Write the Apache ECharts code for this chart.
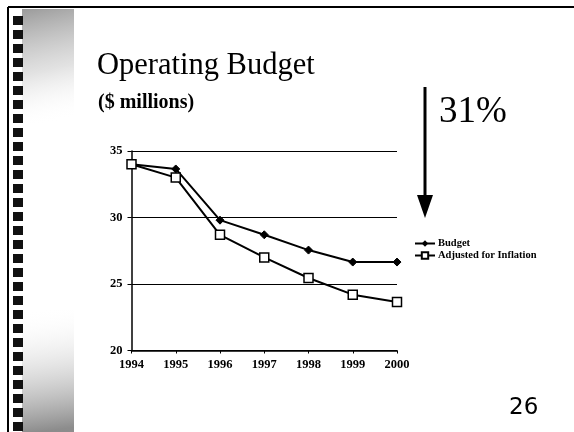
<!DOCTYPE html>
<html>
<head>
<meta charset="utf-8">
<script src="https://cdn.jsdelivr.net/npm/echarts@6/dist/echarts.min.js"></script>
<style>
html,body{margin:0;padding:0;background:#fff;}
#chart{width:574px;height:432px;}
</style>
</head>
<body>
<div id="chart"></div>
<script>
const years = ['1994','1995','1996','1997','1998','1999','2000'];
const budget = [34.0, 33.65, 29.8, 28.7, 27.55, 26.65, 26.65];
const adjusted = [34.0, 33.0, 28.7, 27.0, 25.45, 24.2, 23.65];
const seriesNames = ['Budget', 'Adjusted for Inflation'];
const yTicks = { min: 20, max: 35, interval: 5 };

const serif = '"Liberation Serif", "Times New Roman", serif';

// decorative left strip
const deco = [];
deco.push({type:'rect', shape:{x:22,y:9,width:52,height:115}, silent:true,
  style:{fill:new echarts.graphic.LinearGradient(0,0,0.5,1,[{offset:0,color:'rgba(130,130,130,0.8)'},{offset:0.55,color:'rgba(190,190,190,0.45)'},{offset:1,color:'rgba(255,255,255,0)'}])}});
deco.push({type:'rect', shape:{x:22,y:310,width:52,height:122}, silent:true,
  style:{fill:new echarts.graphic.LinearGradient(0,0,0.3,1,[{offset:0,color:'rgba(255,255,255,0)'},{offset:0.5,color:'rgba(190,190,190,0.45)'},{offset:1,color:'rgba(120,120,120,0.85)'}])}});
for (let y = 16; y < 432; y += 14) {
  deco.push({type:'rect', shape:{x:13,y:y,width:10,height:9}, silent:true, style:{fill:'#111'}});
}
deco.push({type:'line', shape:{x1:8,y1:7,x2:574,y2:7}, silent:true, style:{stroke:'#000',lineWidth:2}});
deco.push({type:'line', shape:{x1:8,y1:7,x2:8,y2:432}, silent:true, style:{stroke:'#000',lineWidth:2}});
// arrow
deco.push({type:'line', shape:{x1:425,y1:87,x2:425,y2:200}, silent:true, style:{stroke:'#000',lineWidth:3}});
deco.push({type:'polygon', shape:{points:[[417,195],[433,195],[425,218]]}, silent:true, style:{fill:'#000'}});
// texts
deco.push({type:'text', left:97, top:50, silent:true, style:{text:'Operating Budget', font:'30.5px '+serif, fill:'#000'}});
deco.push({type:'text', left:98, top:93, silent:true, style:{text:'($ millions)', font:'bold 20px '+serif, fill:'#000'}});
deco.push({type:'text', left:439, top:94, silent:true, style:{text:'31%', font:'37px '+serif, fill:'#000'}});
deco.push({type:'text', left:509, top:397, silent:true, style:{text:'26', font:'23px "DejaVu Sans", sans-serif', fill:'#000'}});

const chart = echarts.init(document.getElementById('chart'), null, {renderer:'canvas'});
chart.setOption({
  backgroundColor:'#fff',
  animation:false,
  grid:{left:131.5, right:177, top:151, bottom:81.5, containLabel:false},
  legend:{
    orient:'vertical', left:409, top:233, itemWidth:20, itemHeight:8, itemGap:1,
    textStyle:{fontFamily:serif, fontWeight:'bold', fontSize:10.5, color:'#000', padding:[0,0,0,-2]},
    data:seriesNames
  },
  xAxis:{
    type:'category', data:years, boundaryGap:false,
    axisLine:{lineStyle:{color:'#000', width:1.5}},
    axisTick:{show:true, length:3, lineStyle:{color:'#000'}},
    axisLabel:{color:'#000', fontFamily:serif, fontWeight:'bold', fontSize:12.5, margin:8}
  },
  yAxis:{
    type:'value', min:yTicks.min, max:yTicks.max, interval:yTicks.interval,
    axisLine:{show:true, lineStyle:{color:'#000', width:1.5}},
    axisTick:{show:true, length:4, lineStyle:{color:'#000'}},
    axisLabel:{color:'#000', fontFamily:serif, fontWeight:'bold', fontSize:12.5, margin:9},
    splitLine:{show:true, lineStyle:{color:'#000', width:1}}
  },
  series:[
    {name:seriesNames[0], type:'line', data:budget, symbol:'diamond', symbolSize:8,
     lineStyle:{color:'#000', width:2}, itemStyle:{color:'#000', borderColor:'#000'}, z:3},
    {name:seriesNames[1], type:'line', data:adjusted, symbol:'rect', symbolSize:9,
     lineStyle:{color:'#000', width:2}, itemStyle:{color:'#fff', borderColor:'#000', borderWidth:1.5}, z:4}
  ],
  graphic:deco
});
</script>
</body>
</html>
